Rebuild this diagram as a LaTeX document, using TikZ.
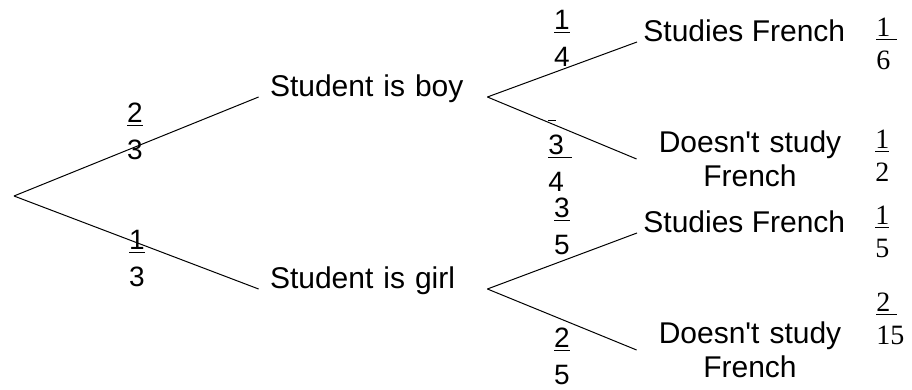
\documentclass[tikz,border=0pt]{standalone}
\usepackage{fontspec}
\setmainfont{Liberation Sans}
\newfontfamily\numfont{Liberation Serif}
\usetikzlibrary{positioning}

\begin{document}
\begin{tikzpicture}[
  x=0.5pt,y=-0.5pt,
  event/.style={inner xsep=5.5pt,text width=103pt,align=left,font=\fontsize{15}{18}\selectfont},
  leaf/.style={inner xsep=3pt,align=center,font=\fontsize{15}{17}\selectfont},
  prob/.style={inner sep=0pt,anchor=south,align=center,font=\fontsize{14}{18.5}\selectfont},
  joint/.style={inner sep=0pt,anchor=south west,align=left,font=\numfont\fontsize{14}{16.5}\selectfont},
  branch/.style={line width=0.5pt},
]
\useasboundingbox (0,0) rectangle (912,390);

% first level
\coordinate (root) at (14,196);
\node[event,anchor=base] (boy) at (373,97) {Student is boy};
\node[event,anchor=base] (girl) at (373,289) {Student is girl};

% second level
\node[leaf,anchor=base west] (boyfr) at (637,42) {Studies French};
\node[leaf,text width=107pt] (boyno) at (750,159) {Doesn\textquotesingle t study\\French};
\node[leaf,anchor=base west] (girlfr) at (637,233) {Studies French};
\node[leaf,text width=107pt] (girlno) at (750,350) {Doesn\textquotesingle t study\\French};

\draw[branch] (root) -- (boy.base west);
\draw[branch] (root) -- (girl.base west);
\draw[branch] (boy.base east) -- (boyfr.base west);
\draw[branch] (boy.base east) -- (boyno.west);
\draw[branch] (girl.base east) -- (girlfr.base west);
\draw[branch] (girl.base east) -- (girlno.west);

% branch probabilities
\node[prob] (pboy) at (135,160) {\underline{2}\\3};
\node[prob] (pgirl) at (137,287) {\underline{1}\\3};
\node[prob] (pboyfr) at (562,67) {\underline{1}\\4};
\node[prob,anchor=south west,align=left] (pboyno) at (548,192) {\underline{\ }\\\underline{3\ }\\4};
\node[prob] (pgirlfr) at (562,255) {\underline{3}\\5};
\node[prob] (pgirlno) at (562,385) {\underline{2}\\5};

% joint probabilities
\node[joint] (jboyfr) at (876,70) {\underline{1\ }\\6};
\node[joint] (jboyno) at (875,182) {\underline{1}\\2};
\node[joint] (jgirlfr) at (875,258) {\underline{1}\\5};
\node[joint] (jgirlno) at (876,345) {\underline{2\ }\\15};

\end{tikzpicture}
\end{document}
